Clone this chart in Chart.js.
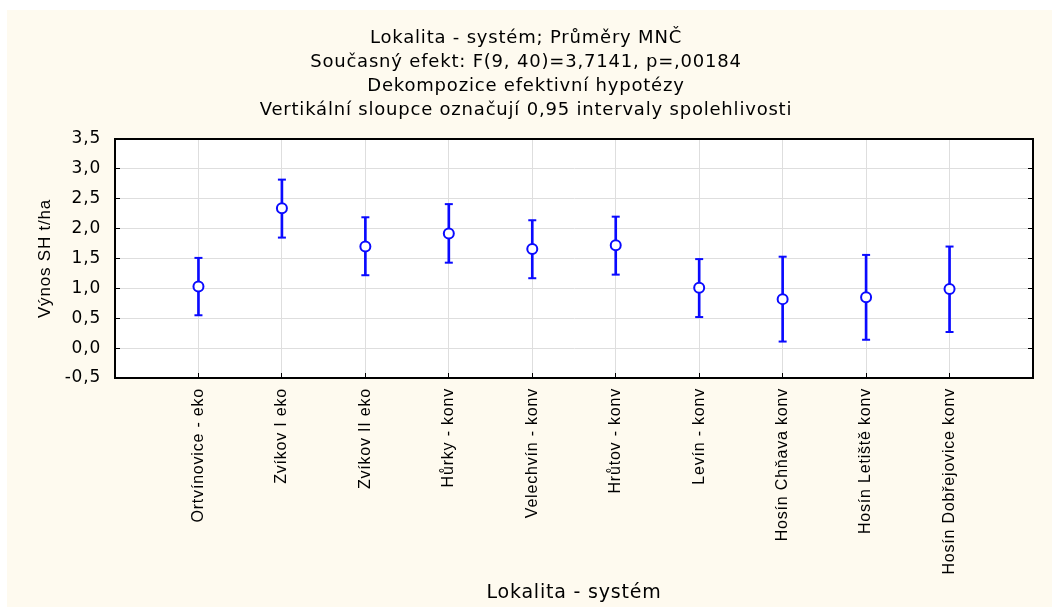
<!DOCTYPE html>
<html>
<head>
<meta charset="utf-8">
<script src="https://cdn.jsdelivr.net/npm/chart.js@4/dist/chart.umd.min.js"></script>
<style>
  html, body { margin: 0; padding: 0; background: #fff; }
  #wrap { width: 1052px; height: 607px; }
</style>
</head>
<body>
<div id="wrap"><canvas id="chart" width="1052" height="607"></canvas></div>
<script>
var categories = ['Ortvínovice - eko', 'Zvíkov I eko', 'Zvíkov II eko', 'Hůrky - konv', 'Velechvín - konv',
                  'Hrůtov - konv', 'Levín - konv', 'Hosín Chňava konv', 'Hosín Letiště konv', 'Hosín Dobřejovice konv'];
var means = [1.03, 2.34, 1.70, 1.92, 1.66, 1.72, 1.01, 0.82, 0.85, 0.99];
var lower = [0.55, 1.85, 1.22, 1.43, 1.17, 1.23, 0.52, 0.11, 0.14, 0.27];
var upper = [1.51, 2.82, 2.19, 2.41, 2.14, 2.20, 1.49, 1.53, 1.56, 1.70];
var titleLines = ['Lokalita - systém; Průměry MNČ',
                  'Současný efekt: F(9, 40)=3,7141, p=,00184',
                  'Dekompozice efektivní hypotézy',
                  'Vertikální sloupce označují 0,95 intervaly spolehlivosti'];

var blue = '#0a0aff';
var wide = "'DejaVu Sans', sans-serif";
var narrow = "'Liberation Sans', Arial, sans-serif";

// cream page, white plot area, a bit of letter spacing like the original
var bgPlugin = {
    id: 'bg',
    beforeDraw: function (chart) {
        var ctx = chart.ctx, a = chart.chartArea;
        ctx.fillStyle = '#ffffff';
        ctx.fillRect(0, 0, chart.width, chart.height);
        ctx.fillStyle = '#fefaef';
        ctx.fillRect(7, 10, chart.width - 7, chart.height - 10);
        ctx.fillStyle = '#ffffff';
        ctx.fillRect(a.left, a.top, a.right - a.left, a.bottom - a.top);
        ctx.letterSpacing = '0.8px';
    }
};

function pts(arr) {
    return arr.map(function (v, i) { return {x: i + 1, y: v}; });
}

var ctx = document.getElementById('chart').getContext('2d');
var myChart = new Chart(ctx, {
    type: 'bar',
    data: {
        datasets: [{
            type: 'line',
            data: pts(means),
            showLine: false,
            pointStyle: 'circle',
            pointRadius: 5,
            pointBorderWidth: 2,
            pointBorderColor: blue,
            pointBackgroundColor: '#ffffff',
            order: 0
        }, {
            type: 'line',
            data: pts(upper),
            showLine: false,
            pointStyle: 'line',
            pointRadius: 4,
            pointBorderWidth: 2,
            pointBorderColor: blue,
            order: 1
        }, {
            type: 'line',
            data: pts(lower),
            showLine: false,
            pointStyle: 'line',
            pointRadius: 4,
            pointBorderWidth: 2,
            pointBorderColor: blue,
            order: 1
        }, {
            type: 'bar',
            data: categories.map(function (c, i) { return {x: i + 1, y: [lower[i], upper[i]]}; }),
            backgroundColor: blue,
            barThickness: 2,
            order: 2
        }]
    },
    options: {
        responsive: false,
        animation: false,
        layout: { padding: 0 },
        plugins: {
            legend: { display: false },
            tooltip: { enabled: false },
            title: {
                display: true,
                text: titleLines,
                color: '#000',
                font: { family: wide, size: 18, weight: 'normal', lineHeight: 1.3333 },
                padding: { top: 26, bottom: 17 }
            }
        },
        scales: {
            x: {
                type: 'linear',
                position: 'bottom',
                min: 0,
                max: 11,
                offset: false,
                afterFit: function (s) { s.height = 229; s.paddingLeft = 0; s.paddingRight = 0; },
                afterBuildTicks: function (s) {
                    s.ticks = [];
                    for (var i = 0; i <= categories.length + 1; i++) s.ticks.push({value: i});
                },
                ticks: {
                    autoSkip: false,
                    minRotation: 90,
                    maxRotation: 90,
                    padding: 15,
                    color: '#000',
                    font: { family: narrow, size: 16 },
                    callback: function (v) { return categories[v - 1] || ''; }
                },
                grid: { offset: false, color: '#dedede', tickColor: '#000', tickLength: -5 },
                border: { color: '#000', width: 2 },
                title: {
                    display: true,
                    text: 'Lokalita - systém',
                    color: '#000',
                    font: { family: wide, size: 19 },
                    padding: { top: 0, bottom: 3 }
                }
            },
            x2: {
                type: 'linear',
                position: 'top',
                min: 0,
                max: 11,
                offset: false,
                afterFit: function (s) { s.height = 0; s.paddingLeft = 0; s.paddingRight = 0; },
                ticks: { display: false },
                grid: { offset: false, drawOnChartArea: false, drawTicks: false },
                border: { color: '#000', width: 2 }
            },
            y: {
                position: 'left',
                min: -0.5,
                max: 3.5,
                afterFit: function (s) { s.width = 115; },
                ticks: {
                    stepSize: 0.5,
                    padding: 19,
                    color: '#000',
                    font: { family: wide, size: 17 },
                    callback: function (v) { return v.toFixed(1).replace('.', ','); }
                },
                grid: { color: '#dedede', tickColor: '#000', tickLength: -5 },
                border: { color: '#000', width: 2 },
                title: {
                    display: true,
                    text: 'Výnos SH t/ha',
                    color: '#000',
                    font: { family: narrow, size: 17 },
                    padding: { top: 35, bottom: 0 }
                }
            },
            y2: {
                position: 'right',
                min: -0.5,
                max: 3.5,
                afterFit: function (s) { s.width = 19; },
                ticks: { display: false, stepSize: 0.5 },
                grid: { drawOnChartArea: false, tickColor: '#000', tickLength: -5 },
                border: { color: '#000', width: 2 }
            }
        }
    },
    plugins: [bgPlugin]
});
</script>
</body>
</html>
